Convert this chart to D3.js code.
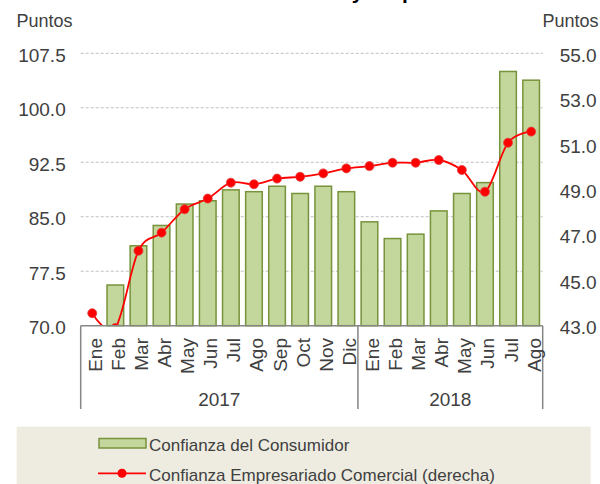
<!DOCTYPE html>
<html>
<head>
<meta charset="utf-8">
<script src="https://cdn.jsdelivr.net/npm/d3@7"></script>
<style>
  body { margin: 0; background: #fff; }
  text { font-family: 'Liberation Sans', Arial, sans-serif; fill: #404040; }
</style>
</head>
<body>
<script>
// chart data
const months = ['Ene', 'Feb', 'Mar', 'Abr', 'May', 'Jun', 'Jul', 'Ago', 'Sep', 'Oct', 'Nov', 'Dic',
  'Ene', 'Feb', 'Mar', 'Abr', 'May', 'Jun', 'Jul', 'Ago']
const years = ['2017', '2018']
const yearMonths = [12, 8]
const consumidor = [68.9, 75.6, 81.0, 83.8, 86.75, 87.2, 88.7, 88.45, 89.2, 88.2, 89.2, 88.45,
  84.3, 82.0, 82.6, 85.8, 88.2, 89.7, 105.0, 103.8]
const empresariado = [43.55, 42.9, 46.3, 47.1, 48.13, 48.6, 49.3, 49.23, 49.48, 49.56, 49.71, 49.93,
  50.03, 50.18, 50.18, 50.3, 49.86, 48.9, 51.06, 51.55]
const leftTicks = [70, 77.5, 85, 92.5, 100, 107.5]
const rightTicks = [43, 45, 47, 49, 51, 53, 55]
const seriesNames = ['Confianza del Consumidor', 'Confianza Empresariado Comercial (derecha)']
const title = 'Confianza del Consumidor y Empresarial'

const width = 600
const height = 484
const plotLeft = 80.7
const plotRight = 542.7
const plotTop = 53.3
const plotBottom = 325.7

const svg = d3.select('body').append('svg')
  .attr('width', width)
  .attr('height', height)
  .style('display', 'block')

// title, cut off at the top like in the source (only descenders show)
svg.append('text')
  .attr('x', 80)
  .attr('y', -1.5)
  .style('font-size', '21px')
  .style('font-weight', 'bold')
  .style('fill', '#000')
  .text(title)

const x = d3.scaleBand()
  .domain(d3.range(months.length))
  .range([plotLeft, plotRight])
  .paddingInner(0.28)
  .paddingOuter(0.14)

const yLeft = d3.scaleLinear().domain([70, 107.5]).range([plotBottom, plotTop])
const yRight = d3.scaleLinear().domain([43, 55]).range([plotBottom, plotTop])

svg.append('clipPath').attr('id', 'plot')
  .append('rect')
  .attr('x', plotLeft - 10).attr('y', 0)
  .attr('width', plotRight - plotLeft + 20).attr('height', plotBottom)

// dashed gridlines
svg.append('g')
  .selectAll('line')
  .data(leftTicks.slice(1))
  .join('line')
  .attr('x1', plotLeft).attr('x2', plotRight)
  .attr('y1', d => yLeft(d)).attr('y2', d => yLeft(d))
  .attr('stroke', '#bfbfbf')
  .attr('stroke-width', 1)
  .attr('stroke-dasharray', '3,2')

// left axis labels
const leftAxis = svg.append('g')
  .attr('transform', `translate(${plotLeft - 15},0)`)
  .call(d3.axisLeft(yLeft).tickValues(leftTicks).tickFormat(d3.format('.1f')).tickSize(0).tickPadding(0))
leftAxis.select('.domain').remove()
leftAxis.selectAll('text')
  .style('font-size', '19px')
  .style('font-family', "'Liberation Sans', Arial, sans-serif")
  .attr('fill', '#404040')
  .attr('dy', '0.42em')

// right axis labels
const rightAxis = svg.append('g')
  .attr('transform', `translate(${plotRight + 17},0)`)
  .call(d3.axisRight(yRight).tickValues(rightTicks).tickFormat(d3.format('.1f')).tickSize(0).tickPadding(0))
rightAxis.select('.domain').remove()
rightAxis.selectAll('text')
  .style('font-size', '19px')
  .style('font-family', "'Liberation Sans', Arial, sans-serif")
  .attr('fill', '#404040')
  .attr('dy', '0.42em')

// unit labels
svg.append('text').attr('x', 16.5).attr('y', 27).style('font-size', '18px').text('Puntos')
svg.append('text').attr('x', 598.5).attr('y', 26.5).attr('text-anchor', 'end')
  .style('font-size', '18px').text('Puntos')

// bars
svg.append('g')
  .selectAll('rect')
  .data(consumidor)
  .join('rect')
  .attr('x', (d, i) => x(i))
  .attr('y', d => Math.min(yLeft(d), plotBottom))
  .attr('width', x.bandwidth())
  .attr('height', d => Math.max(0, plotBottom - yLeft(d)))
  .attr('fill', '#c3d69b')
  .attr('stroke', '#77933c')
  .attr('stroke-width', 1.5)

// smoothed line with markers
const line = d3.line()
  .x((d, i) => x(i) + x.bandwidth() / 2)
  .y(d => yRight(d))
  .curve(d3.curveCatmullRom.alpha(0))

const lineGroup = svg.append('g').attr('clip-path', 'url(#plot)')
lineGroup.append('path')
  .attr('d', line(empresariado))
  .attr('fill', 'none')
  .attr('stroke', '#ff0000')
  .attr('stroke-width', 1.8)

lineGroup.selectAll('circle')
  .data(empresariado)
  .join('circle')
  .attr('cx', (d, i) => x(i) + x.bandwidth() / 2)
  .attr('cy', d => yRight(d))
  .attr('r', 4.5)
  .attr('fill', '#ff0000')
  .attr('stroke', '#e04040')
  .attr('stroke-width', 0.8)

// category axis: baseline, year separators
const axisColor = '#868686'
svg.append('line')
  .attr('x1', plotLeft).attr('x2', plotRight)
  .attr('y1', plotBottom).attr('y2', plotBottom)
  .attr('stroke', axisColor).attr('stroke-width', 1.5)

let start = 0
const separators = [0]
yearMonths.forEach(n => { start += n; separators.push(start) })
svg.append('g')
  .selectAll('line')
  .data(separators)
  .join('line')
  .attr('x1', d => plotLeft + d * x.step())
  .attr('x2', d => plotLeft + d * x.step())
  .attr('y1', plotBottom).attr('y2', 409)
  .attr('stroke', axisColor).attr('stroke-width', 1.5)

// month labels (rotated)
svg.append('g')
  .selectAll('text')
  .data(months)
  .join('text')
  .attr('transform', (d, i) => `translate(${x(i) + x.bandwidth() / 2 + 1.5},338) rotate(-90)`)
  .attr('text-anchor', 'end')
  .attr('dy', '0.42em')
  .style('font-size', '19px')
  .text(d => d)

// year labels
svg.append('g')
  .selectAll('text')
  .data(years)
  .join('text')
  .attr('x', (d, i) => plotLeft + (separators[i] + separators[i + 1]) / 2 * x.step())
  .attr('y', 406)
  .attr('text-anchor', 'middle')
  .style('font-size', '19px')
  .text(d => d)

// legend
const legend = svg.append('g')
legend.append('rect')
  .attr('x', 16.7).attr('y', 426.7)
  .attr('width', 574).attr('height', 60)
  .attr('fill', '#eeece1')

legend.append('rect')
  .attr('x', 99).attr('y', 438.5)
  .attr('width', 47).attr('height', 9.5)
  .attr('fill', '#c3d69b')
  .attr('stroke', '#77933c')
  .attr('stroke-width', 1.5)
legend.append('text')
  .attr('x', 149).attr('y', 450.5)
  .style('font-size', '17px')
  .text(seriesNames[0])

legend.append('line')
  .attr('x1', 98).attr('x2', 146)
  .attr('y1', 473.3).attr('y2', 473.3)
  .attr('stroke', '#ff0000').attr('stroke-width', 1.8)
legend.append('circle')
  .attr('cx', 122).attr('cy', 473.3).attr('r', 4.5)
  .attr('fill', '#ff0000')
legend.append('text')
  .attr('x', 149).attr('y', 481)
  .style('font-size', '17px')
  .text(seriesNames[1])
</script>
</body>
</html>
